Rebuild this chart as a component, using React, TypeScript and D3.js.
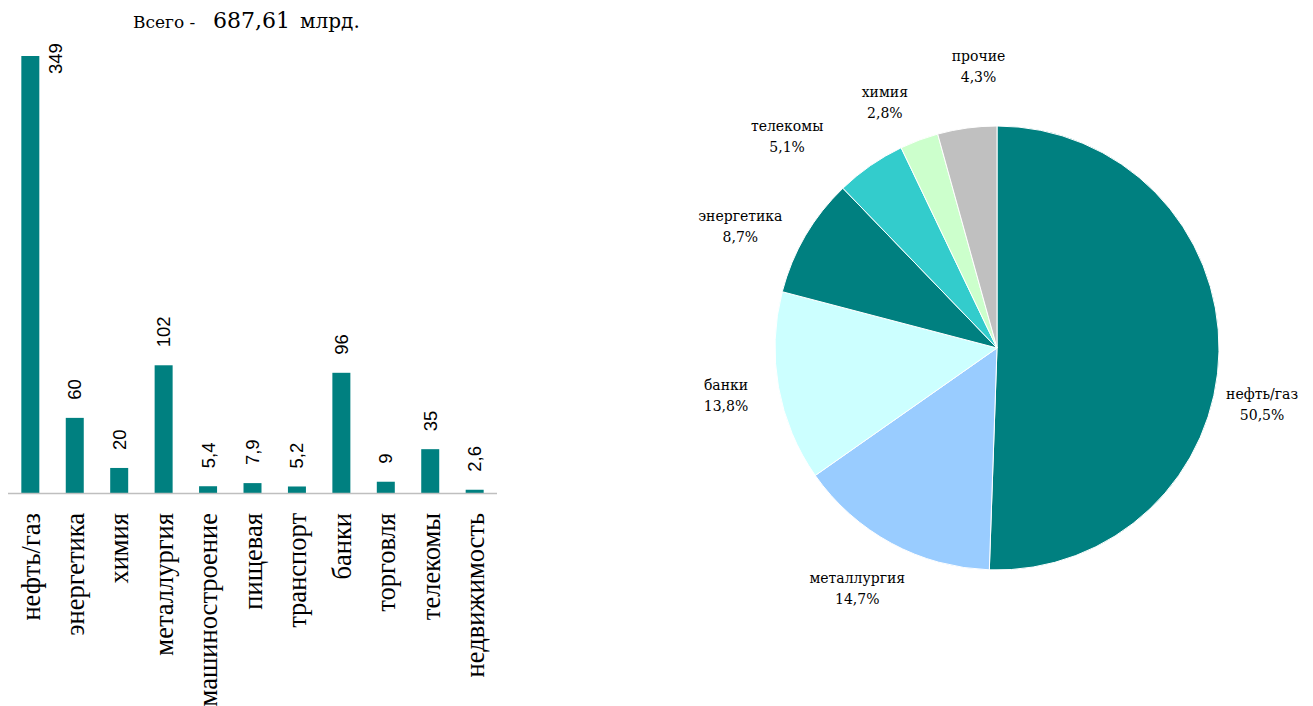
import React, { useRef, useEffect } from 'react';
import * as d3 from 'd3';

const categories = ['нефть/газ', 'энергетика', 'химия', 'металлургия', 'машиностроение', 'пищевая', 'транспорт', 'банки', 'торговля', 'телекомы', 'недвижимость'];
const values = [349, 60, 20, 102, 5.4, 7.9, 5.2, 96, 9, 35, 2.6];
const valueLabels = ['349', '60', '20', '102', '5,4', '7,9', '5,2', '96', '9', '35', '2,6'];

const pieNames = ['нефть/газ', 'металлургия', 'банки', 'энергетика', 'телекомы', 'химия', 'прочие'];
const pieShares = [50.5, 14.7, 13.8, 8.7, 5.1, 2.8, 4.3];
const pieLabels = ['50,5%', '14,7%', '13,8%', '8,7%', '5,1%', '2,8%', '4,3%'];
const pieColors = ['#008080', '#99CCFF', '#CCFFFF', '#008080', '#33CCCC', '#CCFFCC', '#C0C0C0'];

// label layout: angle nudge (deg) and distance from centre, per slice
const labelNudge = [11, 1.7, 0.4, -5, -10, -4, 4];
const labelDist = [271, 278, 275, 284, 298, 270, 283];

const App = () => {
    const chartRef = useRef(null);

    useEffect(() => {
        const width = 1313;
        const height = 706;
        const svg = d3.select(chartRef.current)
            .attr('width', width)
            .attr('height', height);
        svg.selectAll('*').remove();

        // title
        const title = svg.append('g')
            .style('font-family', 'Georgia, "DejaVu Serif", serif')
            .style('fill', '#000');
        title.append('text').attr('x', 133).attr('y', 28).style('font-size', '17px').text('Всего -');
        title.append('text').attr('x', 213).attr('y', 28).style('font-size', '22px').text('687,61');
        title.append('text').attr('x', 300).attr('y', 28).style('font-size', '20px').text('млрд.');

        // bar chart
        const x = d3.scaleBand()
            .domain(categories)
            .range([8, 497])
            .paddingInner(0.595)
            .paddingOuter(0.3);

        const y = d3.scaleLinear()
            .domain([0, 349])
            .range([493, 56]);

        const bars = svg.append('g');

        bars.selectAll('rect')
            .data(values)
            .enter().append('rect')
            .attr('x', (d, i) => x(categories[i]))
            .attr('y', d => y(d))
            .attr('width', x.bandwidth())
            .attr('height', d => y(0) - y(d))
            .style('fill', '#008080');

        bars.append('line')
            .attr('x1', 8)
            .attr('x2', 497)
            .attr('y1', y(0) + 0.5)
            .attr('y2', y(0) + 0.5)
            .style('stroke', '#BFBFBF')
            .style('stroke-width', 1.5);

        const labelFont = 18.5;
        bars.selectAll('text.val')
            .data(values)
            .enter().append('text')
            .attr('class', 'val')
            .attr('transform', (d, i) => {
                const cx = x(categories[i]) + x.bandwidth() / 2;
                const len = valueLabels[i].length * labelFont * 0.556;
                // no room above the tallest bar: put the label beside it
                if (y(d) - 18 - len < 30) {
                    return `translate(${cx + 25},${y(d) + 18}) rotate(-90)`;
                }
                return `translate(${cx},${y(d) - 18}) rotate(-90)`;
            })
            .attr('dy', '0.35em')
            .style('font-family', '"Liberation Sans", Arial, sans-serif')
            .style('font-size', labelFont + 'px')
            .style('fill', '#000')
            .text((d, i) => valueLabels[i]);

        bars.selectAll('text.cat')
            .data(categories)
            .enter().append('text')
            .attr('class', 'cat')
            .attr('transform', d => `translate(${x(d) + x.bandwidth() / 2},513) rotate(-90)`)
            .attr('text-anchor', 'end')
            .attr('dy', '0.35em')
            .style('font-family', '"Liberation Serif", "Times New Roman", serif')
            .style('font-size', '26.5px')
            .style('fill', '#000')
            .text(d => d);

        // pie chart
        const radius = 222;
        const pieG = svg.append('g')
            .attr('transform', 'translate(997,348)');

        const pie = d3.pie().sort(null).value(d => d);
        const arcs = pie(pieShares);

        const arc = d3.arc().innerRadius(0).outerRadius(radius);

        pieG.selectAll('path')
            .data(arcs)
            .enter().append('path')
            .attr('d', arc)
            .style('fill', (d, i) => pieColors[i])
            .style('stroke', '#fff')
            .style('stroke-width', 1);

        const lbl = pieG.selectAll('text.pl')
            .data(arcs)
            .enter().append('text')
            .attr('class', 'pl')
            .attr('text-anchor', 'middle')
            .style('font-family', 'Georgia, "DejaVu Serif", serif')
            .style('font-size', '14px')
            .style('fill', '#000')
            .attr('transform', (d, i) => {
                const a = (d.startAngle + d.endAngle) / 2 + labelNudge[i] * Math.PI / 180;
                const r = labelDist[i];
                return `translate(${Math.sin(a) * r},${-Math.cos(a) * r})`;
            });

        lbl.append('tspan')
            .attr('x', 0)
            .attr('y', -5)
            .text((d, i) => pieNames[i]);
        lbl.append('tspan')
            .attr('x', 0)
            .attr('y', 16)
            .text((d, i) => pieLabels[i]);
    }, []);

    return (
        <svg ref={chartRef} style={{ position: 'absolute', left: 0, top: 0, background: '#fff' }}></svg>
    );
};

export default App;
